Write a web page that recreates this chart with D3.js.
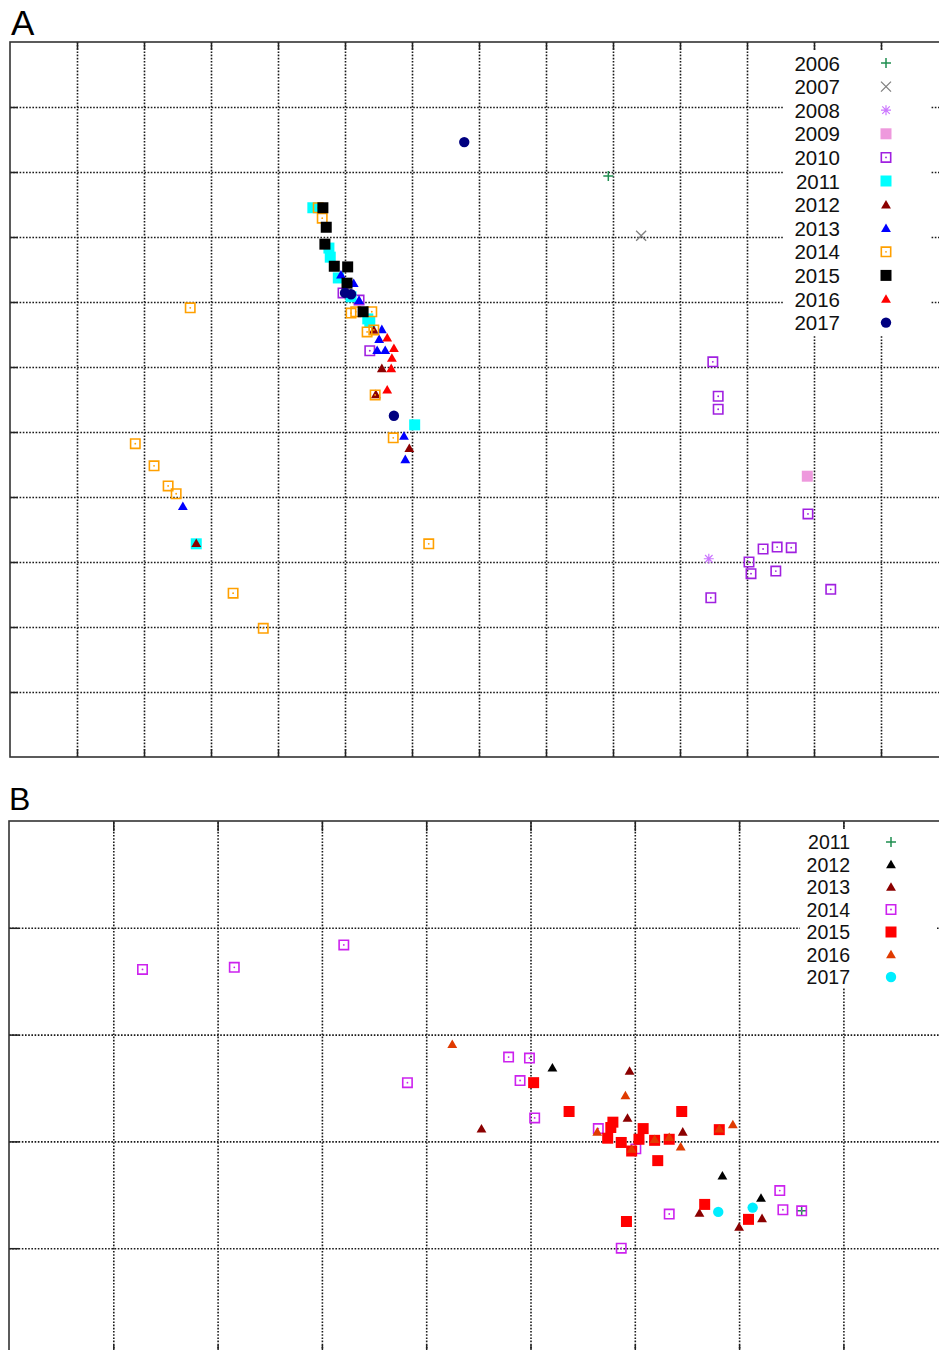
<!DOCTYPE html>
<html>
<head>
<meta charset="utf-8">
<script src="https://cdn.jsdelivr.net/npm/d3@7"></script>
<style>
    body { margin: 0; background: #fff; }
    svg { display: block; }
</style>
</head>
<body>
<svg id="chart" width="939" height="1350"></svg>
<script>
/*************************************************************************************************************
 * Data (grid units)
 *************************************************************************************************************/
let yearsA = ['2006', '2007', '2008', '2009', '2010', '2011', '2012', '2013', '2014', '2015', '2016', '2017'];
let markersA = ['plus', 'times', 'asterisk', 'square', 'hollow', 'square', 'triangle', 'triangle', 'hollow', 'square', 'triangle', 'circle'];
let colorsA = ['#1f8f50', '#808080', '#cc77ff', '#ee99dd', '#a020e0', '#00ffff', '#8b0000', '#0000ff', '#ffa000', '#000000', '#ff0000', '#000080'];

let a2006 = [[8.93, 8.94]];
let a2007 = [[9.42, 8.02]];
let a2008 = [[10.43, 3.05]];
let a2009 = [[11.90, 4.32]];
let a2010 = [[10.49, 6.08], [10.57, 5.55], [10.57, 5.35], [11.91, 3.74], [11.24, 3.20], [11.45, 3.23],
    [11.66, 3.22], [11.03, 3.00], [11.06, 2.82], [11.43, 2.86], [12.25, 2.58], [10.46, 2.45],
    [4.97, 7.14], [5.21, 7.03], [5.37, 6.25]];
let a2011 = [[4.52, 8.45], [4.76, 7.83], [4.78, 7.69], [4.90, 7.37], [5.09, 7.08], [5.34, 6.74],
    [5.37, 6.69], [6.04, 5.11], [2.78, 3.28]];
let a2012 = [[5.43, 6.57], [5.55, 5.98], [5.46, 5.58], [5.96, 4.75], [2.78, 3.29]];
let a2013 = [[4.94, 7.42], [5.13, 7.29], [5.21, 7.03], [5.55, 6.58], [5.51, 6.43], [5.48, 6.26],
    [5.60, 6.26], [5.88, 4.94], [5.90, 4.58], [2.58, 3.86]];
let a2014 = [[4.60, 8.45], [4.66, 8.29], [5.09, 6.83], [5.16, 6.85], [5.40, 6.85], [5.33, 6.54],
    [5.43, 6.57], [5.45, 5.57], [5.72, 4.91], [6.25, 3.28], [2.69, 6.91], [1.87, 4.82],
    [2.15, 4.48], [2.36, 4.17], [2.48, 4.05], [3.33, 2.52], [3.78, 1.98]];
let a2015 = [[4.67, 8.45], [4.72, 8.15], [4.70, 7.89], [4.84, 7.55], [5.04, 7.54], [5.03, 7.29], [5.27, 6.85]];
let a2016 = [[5.63, 6.45], [5.73, 6.29], [5.70, 6.14], [5.69, 5.98], [5.63, 5.65]];
let a2017 = [[6.78, 9.46], [5.00, 7.14], [5.09, 7.12], [5.73, 5.25]];

let yearsB = ['2011', '2012', '2013', '2014', '2015', '2016', '2017'];
let markersB = ['plus', 'triangle', 'triangle', 'hollow', 'square', 'triangle', 'circle'];
let colorsB = ['#1f8f50', '#000000', '#8b0000', '#cc22ee', '#ff0000', '#e03a00', '#00eeff'];

let b2011 = [[7.60, 1.35]];
let b2012 = [[5.21, 2.69], [6.84, 1.68], [7.21, 1.47]];
let b2013 = [[5.95, 2.66], [4.53, 2.12], [5.93, 2.22], [6.46, 2.09], [6.62, 1.33], [7.22, 1.28], [7.00, 1.20]];
let b2014 = [[1.28, 3.61], [2.16, 3.63], [3.21, 3.84], [3.82, 2.55], [4.79, 2.79], [4.99, 2.78],
    [4.90, 2.57], [5.04, 2.22], [5.65, 2.12], [6.01, 1.93], [6.33, 1.32], [5.87, 1.00],
    [7.39, 1.54], [7.42, 1.36], [7.60, 1.35]];
let b2015 = [[5.03, 2.55], [5.37, 2.28], [6.45, 2.28], [5.79, 2.18], [5.77, 2.13], [5.74, 2.03],
    [5.87, 1.99], [6.08, 2.12], [6.04, 2.02], [5.97, 1.91], [6.19, 2.01], [6.33, 2.02],
    [6.22, 1.82], [6.81, 2.11], [6.67, 1.41], [5.92, 1.25], [7.09, 1.27]];
let b2016 = [[4.25, 2.91], [5.91, 2.43], [5.64, 2.09], [5.97, 1.93], [6.19, 2.02], [6.33, 2.04],
    [6.44, 1.95], [6.94, 2.16], [6.81, 2.12]];
let b2017 = [[6.80, 1.34], [7.13, 1.38]];

let seriesA = [a2006, a2007, a2008, a2009, a2010, a2011, a2012, a2013, a2014, a2015, a2016, a2017];
let seriesB = [b2011, b2012, b2013, b2014, b2015, b2016, b2017];

/*************************************************************************************************************
 * Drawing
 *************************************************************************************************************/
let svg = d3.select('#chart');
let fontFamily = '"Liberation Sans", Arial, sans-serif';

function drawMarker(g, type, color, cx, cy) {
    let s = 5;
    let m = g.append('g').attr('transform', 'translate(' + cx + ',' + cy + ')');
    switch (type) {
        case 'plus':
            m.append('path').attr('d', `M${-s},0H${s}M0,${-s}V${s}`)
                .attr('stroke', color).attr('stroke-width', 1.5).attr('fill', 'none');
            break;
        case 'times':
            m.append('path').attr('d', `M${-s},${-s}L${s},${s}M${-s},${s}L${s},${-s}`)
                .attr('stroke', color).attr('stroke-width', 1.3).attr('fill', 'none');
            break;
        case 'asterisk':
            m.append('path').attr('d', `M${-s},0H${s}M0,${-s}V${s}M${-s * 0.75},${-s * 0.75}L${s * 0.75},${s * 0.75}M${-s * 0.75},${s * 0.75}L${s * 0.75},${-s * 0.75}`)
                .attr('stroke', color).attr('stroke-width', 1.2).attr('fill', 'none');
            break;
        case 'square':
            m.append('path').attr('d', d3.symbol().type(d3.symbolSquare).size(121)())
                .attr('fill', color);
            break;
        case 'hollow':
            m.append('path').attr('d', d3.symbol().type(d3.symbolSquare).size(88)())
                .attr('fill', 'none').attr('stroke', color).attr('stroke-width', 1.6);
            m.append('circle').attr('r', 0.9).attr('fill', color);
            break;
        case 'triangle':
            m.append('path').attr('d', d3.symbol().type(d3.symbolTriangle).size(42)())
                .attr('transform', 'translate(0,1)')
                .attr('fill', color);
            break;
        case 'circle':
            m.append('circle').attr('r', 5.2).attr('fill', color);
            break;
    }
}

function drawPanel(opts) {
    let x = d3.scaleLinear().domain(opts.xDomain).range(opts.xRange),
        y = d3.scaleLinear().domain(opts.yDomain).range(opts.yRange);
    let g = svg.append('g');
    let top = opts.yRange[1], bottom = opts.yRange[0],
        left = opts.xRange[0], right = opts.xRange[1];
    let xTicks = d3.range(1, opts.xDomain[1]), yTicks = d3.range(1, opts.yDomain[1]);

    // dotted grid
    let gridX = g.append('g')
        .attr('transform', 'translate(0,' + bottom + ')')
        .call(d3.axisBottom(x).tickValues(xTicks).tickSize(-(bottom - top)).tickFormat(''));
    let gridY = g.append('g')
        .attr('transform', 'translate(' + left + ',0)')
        .call(d3.axisLeft(y).tickValues(yTicks).tickSize(-(right - left)).tickFormat(''));
    [gridX, gridY].forEach(function (a) {
        a.select('.domain').remove();
        a.selectAll('line').attr('stroke', '#1a1a1a').attr('stroke-width', 1.6).attr('stroke-dasharray', '1.6,1.6');
    });

    // solid inner ticks on the frame
    let tl = opts.tickLen;
    let ticks = [
        g.append('g').attr('transform', 'translate(0,' + bottom + ')').call(d3.axisBottom(x).tickValues(xTicks).tickSize(-tl).tickFormat('')),
        g.append('g').attr('transform', 'translate(0,' + top + ')').call(d3.axisTop(x).tickValues(xTicks).tickSize(-tl).tickFormat('')),
        g.append('g').attr('transform', 'translate(' + left + ',0)').call(d3.axisLeft(y).tickValues(yTicks).tickSize(-tl).tickFormat(''))
    ];
    ticks.forEach(function (a) {
        a.select('.domain').remove();
        a.selectAll('line').attr('stroke', '#222').attr('stroke-width', 1.5);
    });

    g.append('rect')
        .attr('x', left).attr('y', top)
        .attr('width', right - left).attr('height', bottom - top)
        .attr('fill', 'none').attr('stroke', '#333').attr('stroke-width', 1.6);

    // points
    let pts = g.append('g');
    opts.series.forEach(function (data, i) {
        data.forEach(function (d) {
            drawMarker(pts, opts.markers[i], opts.colors[i], x(d[0]), y(d[1]));
        });
    });

    // legend
    let lg = opts.legend;
    g.append('rect')
        .attr('x', lg.box[0]).attr('y', lg.box[1]).attr('width', lg.box[2]).attr('height', lg.box[3])
        .attr('fill', '#fff');
    opts.years.forEach(function (year, i) {
        let cy = lg.y0 + i * lg.step;
        g.append('text')
            .attr('x', lg.textRight).attr('y', cy + lg.baseline)
            .attr('text-anchor', 'end')
            .style('font-family', fontFamily)
            .style('font-size', lg.fontSize + 'px')
            .attr('fill', '#111')
            .text(year);
        drawMarker(g, opts.markers[i], opts.colors[i], lg.symbolX, cy);
    });

    // panel letter
    svg.append('text')
        .attr('x', opts.label.x).attr('y', opts.label.y)
        .style('font-family', fontFamily)
        .style('font-size', opts.label.fontSize + 'px')
        .attr('fill', '#000')
        .text(opts.label.text);
}

drawPanel({
    xDomain: [0, 14], xRange: [10, 948],
    yDomain: [0, 11], yRange: [757, 42],
    tickLen: 8,
    series: seriesA, markers: markersA, colors: colorsA, years: yearsA,
    legend: {box: [784, 50, 147, 286], y0: 63, step: 23.6, baseline: 7.5, textRight: 840, symbolX: 886,
        fontSize: 20.5},
    label: {x: 11, y: 35, text: 'A', fontSize: 35}
});

drawPanel({
    xDomain: [0, 9], xRange: [9, 947.7],
    yDomain: [0, 5], yRange: [1355, 821],
    tickLen: 10,
    series: seriesB, markers: markersB, colors: colorsB, years: yearsB,
    legend: {box: [800, 829, 136, 159], y0: 842, step: 22.5, baseline: 7, textRight: 850, symbolX: 891,
        fontSize: 19.5},
    label: {x: 9, y: 810, text: 'B', fontSize: 32}
});
</script>
</body>
</html>
